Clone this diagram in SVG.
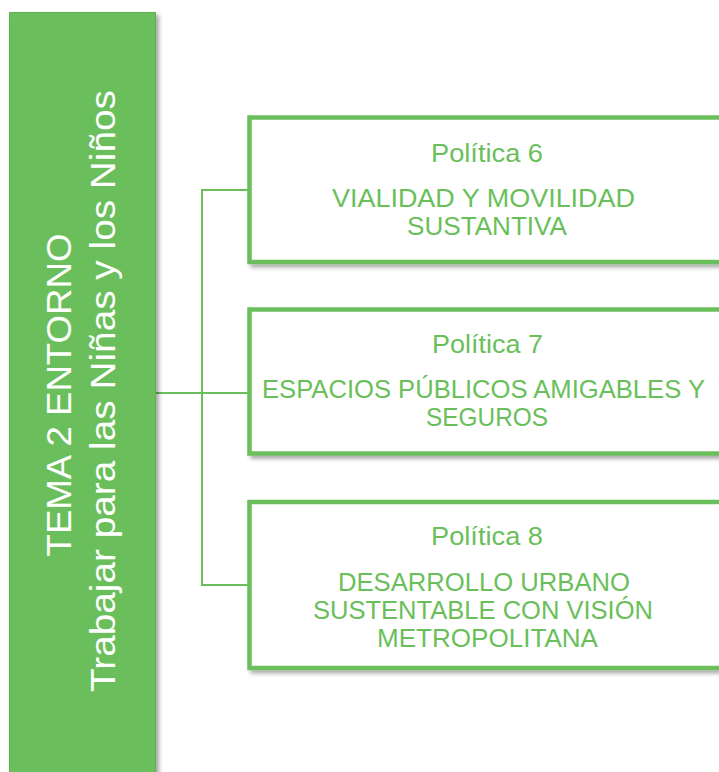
<svg xmlns="http://www.w3.org/2000/svg" width="719" height="772" viewBox="0 0 719 772">
<style>
.box{fill:#ffffff;stroke:#6abf5b;stroke-width:4.5}
.con{fill:none;stroke:#6abf5b;stroke-width:2}
.t{font-family:"Liberation Sans",Arial,sans-serif;fill:#6abf5b;font-size:25px;text-anchor:middle}
.w{font-family:"Liberation Sans",Arial,sans-serif;fill:#ffffff;text-anchor:middle}
</style>
<defs>
<filter id="sh" x="-10%" y="-10%" width="130%" height="130%">
<feDropShadow dx="3" dy="3" stdDeviation="2" flood-color="#000000" flood-opacity="0.35"/>
</filter>
</defs>
<rect width="719" height="772" fill="#ffffff"/>
<g id="connectors">
<path class="con" d="M156 393 H249"/>
<path class="con" d="M249 190 H202 V585 H249"/>
</g>
<g id="tema">
<rect x="9.5" y="12.5" width="146" height="770" fill="#6abf5b" stroke="#5fb24f" stroke-width="1" filter="url(#sh)"/>
<text class="w" font-size="35" transform="translate(71,395) rotate(-90)" textLength="323" lengthAdjust="spacingAndGlyphs">TEMA 2 ENTORNO</text>
<text class="w" font-size="35" transform="translate(115,391) rotate(-90)" textLength="602" lengthAdjust="spacingAndGlyphs">Trabajar para las Niñas y los Niños</text>
</g>
<g id="p6">
<rect class="box" x="249.5" y="117.5" width="480" height="144.5" filter="url(#sh)"/>
<text class="t" x="487" y="162" textLength="112" lengthAdjust="spacingAndGlyphs">Política 6</text>
<text class="t" x="483.5" y="207" textLength="303" lengthAdjust="spacingAndGlyphs">VIALIDAD Y MOVILIDAD</text>
<text class="t" x="487" y="235" textLength="160" lengthAdjust="spacingAndGlyphs">SUSTANTIVA</text>
</g>
<g id="p7">
<rect class="box" x="249.5" y="309.5" width="480" height="144" filter="url(#sh)"/>
<text class="t" x="487.5" y="353" textLength="111" lengthAdjust="spacingAndGlyphs">Política 7</text>
<text class="t" x="483.5" y="398" textLength="443" lengthAdjust="spacingAndGlyphs">ESPACIOS PÚBLICOS AMIGABLES Y</text>
<text class="t" x="487" y="426" textLength="122" lengthAdjust="spacingAndGlyphs">SEGUROS</text>
</g>
<g id="p8">
<rect class="box" x="249.5" y="502" width="480" height="166" filter="url(#sh)"/>
<text class="t" x="487" y="545" textLength="112" lengthAdjust="spacingAndGlyphs">Política 8</text>
<text class="t" x="484" y="591" textLength="292" lengthAdjust="spacingAndGlyphs">DESARROLLO URBANO</text>
<text class="t" x="483" y="619" textLength="340" lengthAdjust="spacingAndGlyphs">SUSTENTABLE CON VISIÓN</text>
<text class="t" x="487.5" y="647" textLength="221" lengthAdjust="spacingAndGlyphs">METROPOLITANA</text>
</g>
</svg>
